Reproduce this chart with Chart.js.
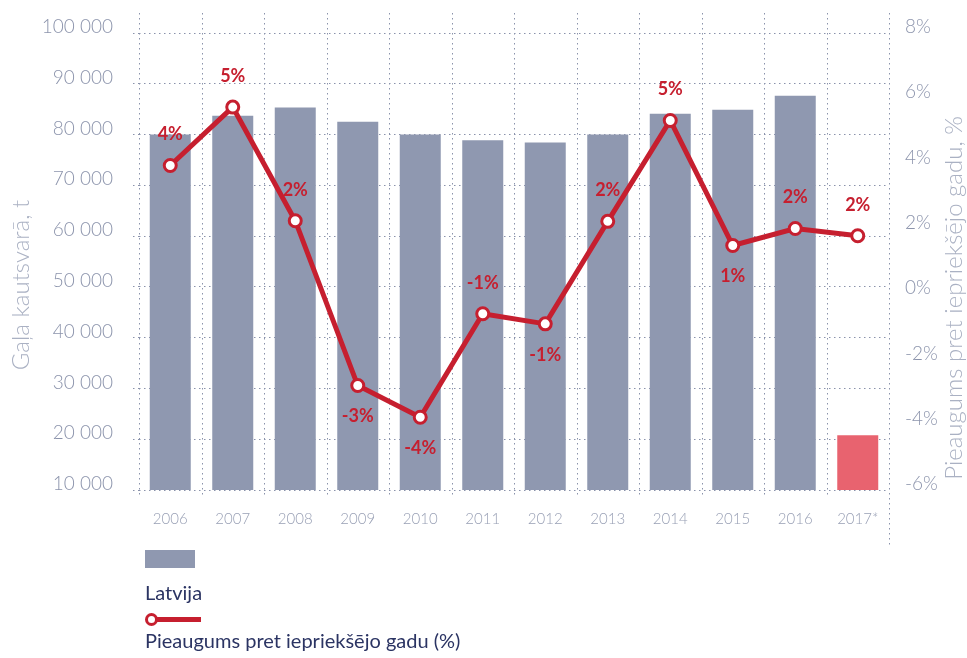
<!DOCTYPE html>
<html>
<head>
<meta charset="utf-8">
<script src="https://cdn.jsdelivr.net/npm/chart.js@4.4.0/dist/chart.umd.min.js"></script>
<style>
  html, body { margin: 0; padding: 0; background: #ffffff; }
  #wrap { position: relative; width: 967px; height: 658px; overflow: hidden; }
  #c { position: absolute; left: 0; top: 0; }
  .lg { position: absolute; font-family: Lato, "Open Sans", sans-serif; font-size: 20px; color: #2b3463; white-space: nowrap; line-height: 24px; }
</style>
</head>
<body>
<div id="wrap">
  <canvas id="c" width="967" height="658"></canvas>
  <div id="legend"></div>
</div>
<script>
// ---- data ----
const years = ['2006', '2007', '2008', '2009', '2010', '2011', '2012', '2013', '2014', '2015', '2016', '2017*'];
const slaughterWeight = [80000, 83700, 85350, 82500, 80000, 78900, 78450, 80000, 84100, 84900, 87650, 20800];
const growthPct = [3.94, 5.73, 2.25, -2.80, -3.77, -0.60, -0.91, 2.23, 5.32, 1.49, 2.01, 1.79];
const growthLabels = ['4%', '5%', '2%', '-3%', '-4%', '-1%', '-1%', '2%', '5%', '1%', '2%', '2%'];
const labelSide = ['above', 'above', 'above', 'below', 'below', 'above', 'below', 'above', 'above', 'below', 'above', 'above'];
const leftAxis = { min: 10000, max: 100000, step: 10000 };
const rightAxis = { min: -6, max: 8, step: 2 };
const barLabel = 'Latvija';
const lineLabel = 'Pieaugums pret iepriekšējo gadu (%)';
const leftTitle = 'Gaļa kautsvarā, t';
const rightTitle = 'Pieaugums pret iepriekšējo gadu, %';

// ---- styles ----
const GRAY = '#8f98b0';
const PINK = '#e8636f';
const RED = '#c61f2f';
const GRID = '#8a92ab';
const DASH = [1.5, 3.5];
const FONT = 'Lato, "Open Sans", sans-serif';

const barColors = years.map((y) => (y.indexOf('*') >= 0 ? PINK : GRAY));

function fmtThousands(v) {
  return String(v).replace(/\B(?=(\d{3})+(?!\d))/g, ' ');
}

const vGridPlugin = {
  id: 'vgrid',
  beforeDatasetsDraw(chart) {
    const xs = chart.scales.x;
    const ca = chart.chartArea;
    const n = chart.data.labels.length;
    const w = xs.width / n;
    const ctx = chart.ctx;
    ctx.save();
    ctx.strokeStyle = GRID;
    ctx.lineWidth = 1;
    ctx.setLineDash(DASH);
    for (let i = 0; i <= n; i++) {
      const x = Math.round(xs.left + i * w) + 0.5;
      ctx.beginPath();
      ctx.moveTo(x, ca.top - 20);
      ctx.lineTo(x, i === n ? ca.bottom + 55 : ca.bottom + 7);
      ctx.stroke();
    }
    ctx.restore();
  }
};

const labelsPlugin = {
  id: 'pointLabels',
  afterDatasetsDraw(chart) {
    const meta = chart.getDatasetMeta(1);
    const ctx = chart.ctx;
    ctx.save();
    ctx.font = 'bold 18px ' + FONT;
    ctx.fillStyle = RED;
    ctx.textAlign = 'center';
    ctx.textBaseline = 'middle';
    meta.data.forEach((pt, i) => {
      const dy = labelSide[i] === 'below' ? 31 : -31;
      ctx.fillText(growthLabels[i], pt.x, pt.y + dy);
    });
    ctx.restore();
  }
};

const titlesPlugin = {
  id: 'axisTitles',
  afterDraw(chart) {
    const ctx = chart.ctx;
    ctx.save();
    ctx.font = '300 24px ' + FONT;
    ctx.fillStyle = '#aab1c3';
    ctx.textAlign = 'center';
    ctx.textBaseline = 'alphabetic';
    ctx.translate(29, 285);
    ctx.rotate(-Math.PI / 2);
    ctx.fillText(leftTitle, 0, 0);
    ctx.restore();
    ctx.save();
    ctx.font = '300 24px ' + FONT;
    ctx.fillStyle = '#aab1c3';
    ctx.textAlign = 'center';
    ctx.textBaseline = 'alphabetic';
    ctx.translate(962, 298);
    ctx.rotate(-Math.PI / 2);
    ctx.fillText(rightTitle, 0, 0);
    ctx.restore();
  }
};

const chart = new Chart(document.getElementById('c'), {
  data: {
    labels: years,
    datasets: [
      {
        type: 'bar',
        label: barLabel,
        data: slaughterWeight,
        backgroundColor: barColors,
        borderWidth: 0,
        barPercentage: 0.656,
        categoryPercentage: 1,
        yAxisID: 'y',
        order: 2
      },
      {
        type: 'line',
        label: lineLabel,
        data: growthPct,
        borderColor: RED,
        borderWidth: 5,
        pointRadius: 6,
        pointBorderWidth: 3,
        pointBackgroundColor: '#ffffff',
        pointBorderColor: RED,
        tension: 0,
        yAxisID: 'y1',
        order: 1
      }
    ]
  },
  options: {
    responsive: false,
    animation: false,
    devicePixelRatio: 1,
    layout: { padding: { top: 33, left: 0, right: 0, bottom: 0 } },
    plugins: {
      legend: { display: false },
      tooltip: { enabled: false }
    },
    scales: {
      x: {
        offset: true,
        grid: { display: false, drawTicks: false },
        border: { display: false },
        ticks: {
          color: '#99a0b5',
          font: { family: FONT, size: 15, weight: 300 },
          padding: 20,
          maxRotation: 0
        },
        afterFit(s) { s.height = 168; }
      },
      y: {
        position: 'left',
        min: leftAxis.min,
        max: leftAxis.max,
        ticks: {
          stepSize: leftAxis.step,
          color: '#8c94ac',
          font: { family: FONT, size: 19, weight: 300, lineHeight: '12px' },
          padding: 20,
          callback: (v) => [fmtThousands(v), '']
        },
        grid: {
          color: GRID,
          lineWidth: 1,
          drawTicks: true,
          tickLength: 6,
          tickColor: GRID,
          tickBorderDash: DASH
        },
        border: { display: false, dash: DASH },
        afterFit(s) { s.width = 139; }
      },
      y1: {
        position: 'right',
        min: rightAxis.min,
        max: rightAxis.max,
        ticks: {
          stepSize: rightAxis.step,
          color: '#8c94ac',
          font: { family: FONT, size: 19, weight: 300, lineHeight: '12px' },
          padding: 16,
          callback: (v) => [v + '%', '']
        },
        grid: { display: false, drawTicks: false },
        border: { display: false },
        afterFit(s) { s.width = 78; }
      }
    }
  },
  plugins: [vGridPlugin, labelsPlugin, titlesPlugin]
});

// ---- HTML legend built from the chart's datasets ----
(function buildLegend() {
  const lg = document.getElementById('legend');
  const ds = chart.data.datasets;
  const box = document.createElement('div');
  box.style.cssText = 'position:absolute;left:145px;top:550px;width:50px;height:18px;background:' + GRAY + ';';
  lg.appendChild(box);
  const t1 = document.createElement('div');
  t1.className = 'lg';
  t1.style.left = '145px';
  t1.style.top = '580px';
  t1.textContent = ds[0].label;
  lg.appendChild(t1);
  const line = document.createElement('div');
  line.style.cssText = 'position:absolute;left:148px;top:617px;width:53px;height:5px;background:' + ds[1].borderColor + ';';
  lg.appendChild(line);
  const dot = document.createElement('div');
  dot.style.cssText = 'position:absolute;left:145px;top:613px;width:7px;height:7px;border-radius:50%;background:#fff;border:3px solid ' + ds[1].borderColor + ';';
  lg.appendChild(dot);
  const t2 = document.createElement('div');
  t2.className = 'lg';
  t2.style.left = '145px';
  t2.style.top = '628px';
  t2.textContent = ds[1].label;
  lg.appendChild(t2);
})();
</script>
</body>
</html>
